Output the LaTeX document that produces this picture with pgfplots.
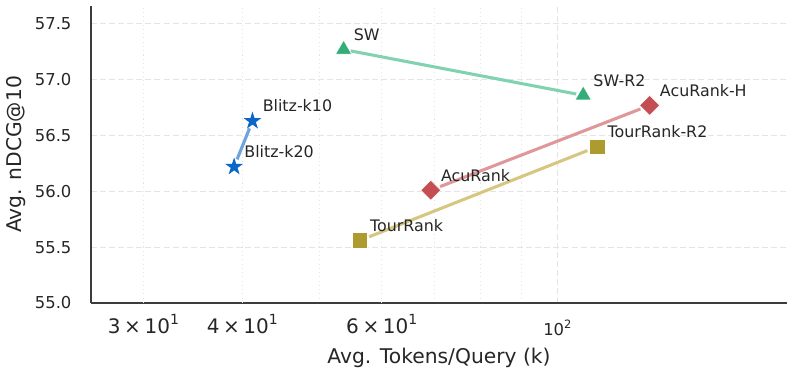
\documentclass[border=0pt]{standalone}
\usepackage{fontspec}
\setmainfont{DejaVu Sans}
\usepackage{pgfplots}
\pgfplotsset{compat=1.18}

\definecolor{txt}{HTML}{262626}
\definecolor{spine}{HTML}{3C3C3C}
\definecolor{gridc}{HTML}{E4E4E4}
\definecolor{swc}{HTML}{34AD78}
\definecolor{swl}{HTML}{80D2B0}
\definecolor{blitzc}{HTML}{0A66C8}
\definecolor{blitzl}{HTML}{6CA3E0}
\definecolor{acuc}{HTML}{C44E52}
\definecolor{acul}{HTML}{E0979A}
\definecolor{tourc}{HTML}{AE9B2F}
\definecolor{tourl}{HTML}{D5C781}

% mantissa x 10^exp, set like matplotlib's log minor labels
\newcommand{\expo}[1]{\raisebox{0.45em}{\fontsize{0.7em}{1em}\selectfont #1}}
\newcommand{\mlab}[2]{#1\hspace{0.18em}×\hspace{0.18em}10\expo{#2}}

% filled five-point star, like matplotlib's '*'
\pgfdeclareplotmark{fstar}{%
  \pgfpathmoveto{\pgfpointpolar{90}{\pgfplotmarksize}}%
  \pgfpathlineto{\pgfpointpolar{126}{0.382\pgfplotmarksize}}%
  \pgfpathlineto{\pgfpointpolar{162}{\pgfplotmarksize}}%
  \pgfpathlineto{\pgfpointpolar{198}{0.382\pgfplotmarksize}}%
  \pgfpathlineto{\pgfpointpolar{234}{\pgfplotmarksize}}%
  \pgfpathlineto{\pgfpointpolar{270}{0.382\pgfplotmarksize}}%
  \pgfpathlineto{\pgfpointpolar{306}{\pgfplotmarksize}}%
  \pgfpathlineto{\pgfpointpolar{342}{0.382\pgfplotmarksize}}%
  \pgfpathlineto{\pgfpointpolar{18}{\pgfplotmarksize}}%
  \pgfpathlineto{\pgfpointpolar{54}{0.382\pgfplotmarksize}}%
  \pgfpathclose
  \pgfusepathqfill}

\begin{document}
\begin{tikzpicture}
\begin{axis}[
    scale only axis,
    width=522pt, height=222.75pt,
    xmode=log,
    xmin=25.76, xmax=195,
    ymin=55.0, ymax=57.66,
    axis x line*=bottom,
    axis y line*=left,
    axis line style={spine, line width=1.1pt},
    major tick length=0pt, minor tick length=0pt,
    xtick={100},
    xticklabels={10\expo{2}},
    extra x ticks={30,40,60},
    extra x tick labels={\mlab{3}{1}, \mlab{4}{1}, \mlab{6}{1}},
    extra x tick style={grid=major,
        major grid style={gridc, line width=0.7pt, dash pattern=on 0.8pt off 2.4pt},
        xticklabel style={font=\fontsize{15}{18}\selectfont, yshift=4pt}},
    minor xtick={50,70,80,90},
    ytick={55.0,55.5,56.0,56.5,57.0,57.5},
    grid=both,
    major grid style={gridc, line width=0.9pt, dash pattern=on 4.5pt off 2.3pt},
    minor grid style={gridc, line width=0.7pt, dash pattern=on 0.8pt off 2.4pt},
    /pgf/number format/assume math mode=true,
    yticklabel={\pgfmathprintnumber[fixed, fixed zerofill, precision=1]{\tick}},
    tick label style={font=\fontsize{12.3}{14}\selectfont, text=txt},
    yticklabel style={inner sep=0pt, xshift=-14.5pt},
    xticklabel style={inner sep=0pt, yshift=-12.5pt},
    xlabel={Avg. Tokens/Query (k)},
    ylabel={Avg. nDCG@10},
    label style={font=\fontsize{15.2}{18}\selectfont, text=txt},
    xlabel style={at={(axis description cs:0.5,-0.184)}, anchor=center},
    ylabel style={at={(axis description cs:-0.108,0.5)}, anchor=center},
    clip=false,
]
% connecting lines (drawn first, shortened at both ends)
\addplot[swl, line width=2.3pt, shorten <=5.3pt, shorten >=5.3pt] coordinates {(53.7,57.27) (107.8,56.86)};
\addplot[blitzl, line width=2.3pt, shorten <=6pt, shorten >=6pt] coordinates {(39.06,56.22) (41.2,56.63)};
\addplot[acul, line width=2.3pt, shorten <=7.5pt, shorten >=7.5pt] coordinates {(69.2,56.01) (130.8,56.77)};
\addplot[tourl, line width=2.3pt, shorten <=7.5pt, shorten >=8pt] coordinates {(56.3,55.56) (112.3,56.40)};

% markers
\addplot[only marks, mark=triangle*, mark size=7pt, mark options={fill=swc, draw=white, line width=0.4pt}] coordinates {(53.7,57.27) (107.8,56.86)};
\addplot[only marks, mark=fstar, mark size=7pt, mark options={fill=blitzc}] coordinates {(39.06,56.22) (41.2,56.63)};
\addplot[only marks, mark=square*, mark size=5.3pt, mark options={rotate=45, fill=acuc, draw=white, line width=0.4pt}] coordinates {(69.2,56.01) (130.8,56.77)};
\addplot[only marks, mark=square*, mark size=5.8pt, mark options={fill=tourc, draw=white, line width=0.4pt}] coordinates {(56.3,55.56) (112.3,56.40)};

% labels
\begin{scope}[every node/.style={anchor=west, inner sep=0pt, xshift=7.5pt, yshift=11.25pt, text=txt, font=\fontsize{11.9}{14}\selectfont}]
\node at (axis cs:53.7,57.27) {SW};
\node at (axis cs:107.8,56.86) {SW-R2};
\node at (axis cs:41.2,56.63) {Blitz-k10};
\node at (axis cs:39.06,56.22) {Blitz-k20};
\node at (axis cs:69.2,56.01) {AcuRank};
\node at (axis cs:130.8,56.77) {AcuRank-H};
\node at (axis cs:56.3,55.56) {TourRank};
\node at (axis cs:112.3,56.40) {TourRank-R2};
\end{scope}
\end{axis}
\pgfresetboundingbox
\path ([shift={(-68.25pt,-54.75pt)}]current axis.south west) rectangle ([shift={(4.5pt,4.5pt)}]current axis.north east);
\end{tikzpicture}
\end{document}
